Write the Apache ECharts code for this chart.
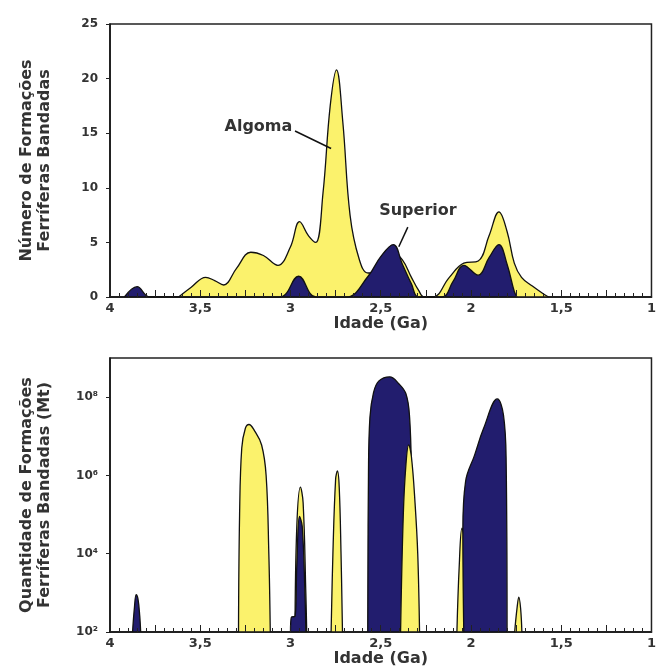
<!DOCTYPE html>
<html>
<head>
<meta charset="utf-8">
<script src="https://cdn.jsdelivr.net/npm/echarts@6/dist/echarts.min.js"></script>
<style>
  html, body { margin: 0; padding: 0; background: #fff; }
  #chart { width: 659px; height: 669px; }
</style>
</head>
<body>
<div id="chart"></div>
<script>
// idade em Ga (eixo invertido 4 -> 1)
const xTicks = [4, 3.5, 3, 2.5, 2, 1.5, 1]

// grafico superior: numero de formacoes
const algomaNum = [
  [3.62, 0], [3.55, 0.9], [3.47, 1.8], [3.42, 1.5], [3.37, 1.1], [3.30, 2.6], [3.22, 4.1],
  [3.15, 3.8], [3.07, 2.9], [3.00, 4.6], [2.95, 6.9], [2.90, 5.6], [2.86, 5.0], [2.82, 9.5],
  [2.78, 17.5], [2.745, 20.8], [2.71, 16], [2.67, 7.5], [2.62, 3.5], [2.57, 2.2], [2.50, 2.2],
  [2.43, 4.0], [2.38, 3.4], [2.33, 1.8], [2.29, 0.6], [2.26, 0], [2.21, 0], [2.12, 1.8],
  [2.04, 3.1], [1.96, 3.3], [1.90, 5.6], [1.845, 7.8], [1.80, 6.0], [1.76, 3.1],
  [1.72, 1.8], [1.66, 1.0], [1.60, 0.3], [1.57, 0]
]
const superiorNum = [
  [3.92, 0], [3.85, 0.95], [3.78, 0], [3.06, 0], [2.955, 1.9], [2.86, 0],
  [2.69, 0], [2.57, 1.9], [2.50, 3.7], [2.43, 4.8], [2.38, 3.0], [2.33, 1.2], [2.29, 0],
  [2.16, 0], [2.10, 1.4], [2.04, 2.9], [1.96, 2.0], [1.90, 3.6], [1.845, 4.8], [1.80, 3.0],
  [1.76, 0.5], [1.745, 0]
]

// grafico inferior: quantidade (Mt), escala log
const algomaMt32 = [[3.288, 100], [3.282, 1e5], [3.27, 5e6], [3.25, 1.6e7], [3.23, 2e7], [3.20, 1.4e7], [3.16, 6e6], [3.135, 1e6], [3.12, 1e4], [3.112, 100]]
const algomaMt295 = [[2.975, 100], [2.965, 5e4], [2.945, 5e5], [2.93, 2e5], [2.915, 1000], [2.91, 100]]
const algomaMt275 = [[2.775, 100], [2.765, 1e4], [2.75, 8e5], [2.74, 1.3e6], [2.73, 5e5], [2.72, 1e4], [2.712, 100]]
const algomaMt238 = [[2.39, 100], [2.375, 1e5], [2.36, 2e6], [2.345, 6e6], [2.33, 3e6], [2.31, 2e5], [2.295, 1e4], [2.285, 100]]
const algomaMt205 = [[2.078, 100], [2.065, 5e3], [2.05, 4.5e4], [2.035, 2e4], [2.01, 100]]
const algomaMt174 = [[1.758, 100], [1.745, 400], [1.735, 780], [1.725, 400], [1.718, 100]]
const superiorMt385 = [[3.875, 100], [3.865, 400], [3.855, 900], [3.845, 700], [3.835, 250], [3.83, 100]]
const superiorMt295 = [[3.0, 100], [2.995, 240], [2.975, 250], [2.965, 5000], [2.95, 9e4], [2.935, 5e4], [2.92, 1000], [2.915, 100]]
const superiorMt245 = [[2.572, 100], [2.568, 1e6], [2.56, 3e7], [2.54, 1.3e8], [2.51, 2.6e8], [2.45, 3.3e8], [2.40, 2.2e8], [2.36, 1.2e8], [2.34, 3e7], [2.33, 1e6], [2.32, 100]]
const superiorMt185 = [[2.04, 100], [2.045, 4e4], [2.03, 7e5], [1.98, 3.3e6], [1.93, 1.6e7], [1.854, 9e7], [1.82, 3.5e7], [1.805, 2e6], [1.80, 100]]

const YELLOW = '#fbf26c'
const NAVY = '#221d6e'
const FONT = 'DejaVu Sans'
const sup = { 2: '²', 4: '⁴', 6: '⁶', 8: '⁸' }

const xAxisBase = (idx) => ({
  type: 'value',
  gridIndex: idx,
  z: 10,
  min: 1,
  max: 4,
  interval: 0.25,
  inverse: true,
  name: 'Idade (Ga)',
  nameLocation: 'middle',
  nameGap: 17,
  nameTextStyle: { color: '#333', fontFamily: FONT, fontWeight: 'bold', fontSize: 16 },
  axisLine: { lineStyle: { color: '#111', width: 1.5 } },
  axisTick: { inside: true, length: 7, lineStyle: { color: '#222' } },
  minorTick: { show: true, splitNumber: 5, length: 4, lineStyle: { color: '#222' } },
  splitLine: { show: false },
  axisLabel: {
    color: '#333', fontFamily: FONT, fontWeight: 'bold', fontSize: 13, margin: 5,
    formatter: (v) => xTicks.includes(v) ? String(v).replace('.', ',') : ''
  }
})

const area = (data, color, xi, z) => ({
  type: 'line',
  xAxisIndex: xi,
  yAxisIndex: xi,
  data: data,
  smooth: 0.4,
  symbol: 'none',
  z: z,
  lineStyle: { color: '#111', width: 1.3 },
  areaStyle: { color: color, opacity: 1, origin: 'start' }
})

const yName = { color: '#333', fontFamily: FONT, fontWeight: 'bold', fontSize: 16, lineHeight: 18 }

const myChart = echarts.init(document.getElementById('chart'))
const option = {
  animation: false,
  grid: [
    { left: 110, top: 24, width: 545, height: 273, show: true, borderColor: '#222', borderWidth: 1.5 },
    { left: 110, top: 358, width: 545, height: 274, show: true, borderColor: '#222', borderWidth: 1.5 }
  ],
  xAxis: [xAxisBase(0), xAxisBase(1)],
  yAxis: [
    {
      type: 'value',
      gridIndex: 0,
      min: 0,
      max: 25,
      interval: 5,
      name: 'Número de Formações\nFerríferas Bandadas',
      nameLocation: 'middle',
      nameGap: 56,
      nameTextStyle: yName,
      axisLine: { show: true, lineStyle: { color: '#111', width: 1.5 } },
      axisTick: { show: true, length: 4, lineStyle: { color: '#222' } },
      splitLine: { show: false },
      axisLabel: { color: '#333', fontFamily: FONT, fontWeight: 'bold', fontSize: 12, margin: 12 }
    },
    {
      type: 'log',
      gridIndex: 1,
      logBase: 100,
      min: 100,
      max: 1e9,
      name: 'Quantidade de Formações\nFerríferas Bandadas (Mt)',
      nameLocation: 'middle',
      nameGap: 56,
      nameTextStyle: yName,
      axisLine: { show: true, lineStyle: { color: '#111', width: 1.5 } },
      axisTick: { show: true, length: 4, lineStyle: { color: '#222' } },
      splitLine: { show: false },
      axisLabel: {
        color: '#333', fontFamily: FONT, fontWeight: 'bold', fontSize: 12, margin: 12, showMaxLabel: false,
        formatter: (v) => {
          const e = Math.round(Math.log10(v))
          return sup[e] ? '10' + sup[e] : ''
        }
      }
    }
  ],
  series: [
    area(algomaNum, YELLOW, 0, 2),
    area(superiorNum, NAVY, 0, 3),
    area(algomaMt32, YELLOW, 1, 2),
    area(algomaMt295, YELLOW, 1, 2),
    area(algomaMt205, YELLOW, 1, 2),
    area(algomaMt174, YELLOW, 1, 2),
    area(superiorMt385, NAVY, 1, 3),
    area(superiorMt295, NAVY, 1, 3),
    area(superiorMt245, NAVY, 1, 3),
    area(superiorMt185, NAVY, 1, 3),
    area(algomaMt275, YELLOW, 1, 4),
    area(algomaMt238, YELLOW, 1, 4)
  ]
}
myChart.setOption(option)

// rotulos Algoma / Superior no espaco dos dados
const px = (x, y) => myChart.convertToPixel({ gridIndex: 0 }, [x, y])
const a0 = px(2.975, 15.2), a1 = px(2.775, 13.6), aT = px(2.99, 15.6)
const s0 = px(2.35, 6.4), s1 = px(2.40, 4.6), sT = px(2.294, 7.9)
const labelStyle = { fill: '#333', font: 'bold 16px "DejaVu Sans"' }
myChart.setOption({
  graphic: [
    { type: 'line', z: 10, shape: { x1: a0[0], y1: a0[1], x2: a1[0], y2: a1[1] }, style: { stroke: '#111', lineWidth: 1.5 } },
    { type: 'text', z: 10, x: aT[0], y: aT[1], style: Object.assign({ text: 'Algoma', align: 'right', verticalAlign: 'middle' }, labelStyle) },
    { type: 'line', z: 10, shape: { x1: s0[0], y1: s0[1], x2: s1[0], y2: s1[1] }, style: { stroke: '#111', lineWidth: 1.5 } },
    { type: 'text', z: 10, x: sT[0], y: sT[1], style: Object.assign({ text: 'Superior', align: 'center', verticalAlign: 'middle' }, labelStyle) }
  ]
})
</script>
</body>
</html>
